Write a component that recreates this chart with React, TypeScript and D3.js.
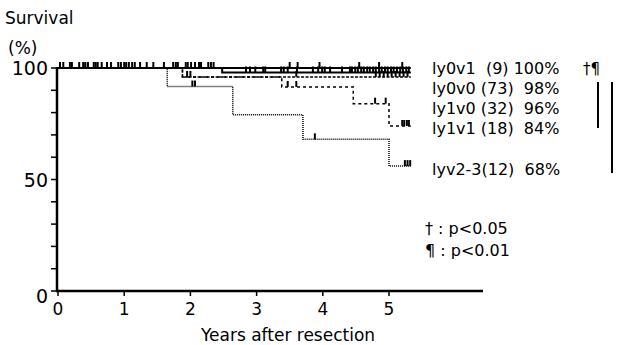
import * as d3 from "d3";

// Kaplan-Meier curves by lymphatic / venous invasion
const groups = ["ly0v1", "ly0v0", "ly1v0", "ly1v1", "lyv2-3"];
const counts = [9, 73, 32, 18, 12];
const fiveYear = [100, 98, 96, 84, 68];

// step points (years, % surviving)
const ly0v1Steps: [number, number][] = [[0, 100], [5.33, 100]];
const ly0v0Steps: [number, number][] = [[0, 100], [2.48, 98], [5.33, 98]];
const ly1v0Steps: [number, number][] = [[0, 100], [1.88, 96], [5.33, 96]];
const ly1v1Steps: [number, number][] = [[0, 100], [1.88, 96], [3.38, 91.5], [4.46, 84], [5.0, 74], [5.33, 74]];
const lyv23Steps: [number, number][] = [[0, 100], [1.65, 91.7], [2.64, 79], [3.7, 68], [5.0, 56], [5.33, 56]];

// censored follow-up times (years)
const ly0v1Censor = [0.45, 1.6, 2.35, 3.5, 3.62, 3.95, 4.55, 4.85, 5.2];
const ly0v0Censor = [
  0.03, 0.08, 0.18, 0.21, 0.32, 0.38, 0.41, 0.45, 0.54, 0.57, 0.6, 0.66, 0.74, 0.8, 0.91, 0.95,
  1.0, 1.03, 1.07, 1.12, 1.16, 1.24, 1.34, 1.44, 1.74, 1.78, 1.81, 1.93, 1.96, 2.01, 2.07, 2.13,
  2.16, 2.27, 2.31, 2.84, 2.9, 2.98, 3.1, 3.13, 3.37, 3.41, 3.47, 3.61, 3.85, 3.93, 3.99, 4.03,
  4.11, 4.29, 4.41, 4.44, 4.49, 4.53, 4.58, 4.62, 4.67, 4.71, 4.76, 4.8, 4.85, 4.89, 4.94, 4.98,
  5.03, 5.07, 5.12, 5.17, 5.21, 5.26, 5.3,
];
const ly1v0Censor = [1.95, 2.0, 3.6, 4.8, 4.86, 4.92, 4.98, 5.04, 5.1, 5.16, 5.22, 5.28];
const ly1v1Censor = [3.47, 3.6, 4.79, 4.95, 5.2, 5.23, 5.27, 5.3];
const lyv23Censor = [2.03, 2.07, 3.88, 5.24, 5.28, 5.32];

const yTicks = [0, 10, 20, 30, 40, 50, 60, 70, 80, 90, 100];
const yLabels = [0, 50, 100];
const xTicks = [0, 1, 2, 3, 4, 5];

const x = d3.scaleLinear().domain([0, 1]).range([58, 124.2]);
const y = d3.scaleLinear().domain([0, 100]).range([291, 68]);

const stepLine = d3
  .line<[number, number]>()
  .x((d) => x(d[0]))
  .y((d) => y(d[1]))
  .curve(d3.curveStepAfter);

const survAt = (steps: [number, number][], t: number) => {
  let s = steps[0][1];
  for (const p of steps) if (p[0] <= t) s = p[1];
  return s;
};

const curves = [
  { steps: ly0v1Steps, censor: ly0v1Censor, dash: "none", w: 2 },
  { steps: ly0v0Steps, censor: ly0v0Censor, dash: "none", w: 2 },
  { steps: ly1v0Steps, censor: ly1v0Censor, dash: "3 1.5", w: 1.5 },
  { steps: ly1v1Steps, censor: ly1v1Censor, dash: "3 3", w: 1.5 },
  { steps: lyv23Steps, censor: lyv23Censor, dash: "1 1", w: 1.5 },
];

const legendY = [68, 88, 108, 128, 169];
const font = "'DejaVu Sans', sans-serif";

export default function App() {
  return (
    <svg width={617} height={345} style={{ position: "absolute", left: 0, top: 0, background: "#fff" }} fontFamily={font}>
      <text x={5} y={24} fontSize={17}>Survival</text>
      <text x={8} y={54} fontSize={17}>(%)</text>

      {/* axes */}
      <line x1={x(0) - 1} x2={x(0) - 1} y1={y(100) - 1} y2={y(0) + 1} stroke="#000" strokeWidth={2.5} />
      <line x1={x(0) - 2} x2={483} y1={y(0)} y2={y(0)} stroke="#000" strokeWidth={2.5} />
      {yTicks.map((t) => (
        <line key={t} x1={x(0) - 7} x2={x(0)} y1={y(t)} y2={y(t)} stroke="#000" strokeWidth={1.5} />
      ))}
      {yLabels.map((t) => (
        <text key={t} x={48} y={y(t) + 7 + (t === 0 ? 5 : 0)} fontSize={19} textAnchor="end">{t}</text>
      ))}
      {xTicks.map((t) => (
        <g key={t}>
          <line x1={x(t)} x2={x(t)} y1={y(0)} y2={y(0) + 5} stroke="#000" strokeWidth={1.5} />
          <text x={x(t)} y={y(0) + 24} fontSize={17} textAnchor="middle">{t}</text>
        </g>
      ))}
      <text x={288} y={341} fontSize={17} textAnchor="middle">Years after resection</text>

      {/* curves */}
      {curves.map((c, i) => (
        <g key={i}>
          <path d={stepLine(c.steps) ?? ""} fill="none" stroke="#000" strokeWidth={c.w} strokeDasharray={c.dash} />
          {c.censor.map((t, j) => {
            const yy = y(survAt(c.steps, t));
            return <line key={j} x1={x(t)} x2={x(t)} y1={yy} y2={yy - 6} stroke="#000" strokeWidth={2} />;
          })}
        </g>
      ))}

      {/* legend */}
      {groups.map((g, i) => (
        <text key={g} x={432} y={legendY[i] + 6} fontSize={16} xmlSpace="preserve">
          {`${g}${i === 0 ? "  " : i === 4 ? "" : " "}(${counts[i]}) ${fiveYear[i] < 100 ? " " : ""}${fiveYear[i]}%`}
        </text>
      ))}
      <text x={583} y={74} fontSize={15}>†¶</text>
      <line x1={598} x2={598} y1={82} y2={128} stroke="#000" strokeWidth={2} />
      <line x1={612} x2={612} y1={82} y2={173} stroke="#000" strokeWidth={2} />
      <text x={425} y={234} fontSize={16}>† : p&lt;0.05</text>
      <text x={425} y={256} fontSize={16}>¶ : p&lt;0.01</text>
    </svg>
  );
}
